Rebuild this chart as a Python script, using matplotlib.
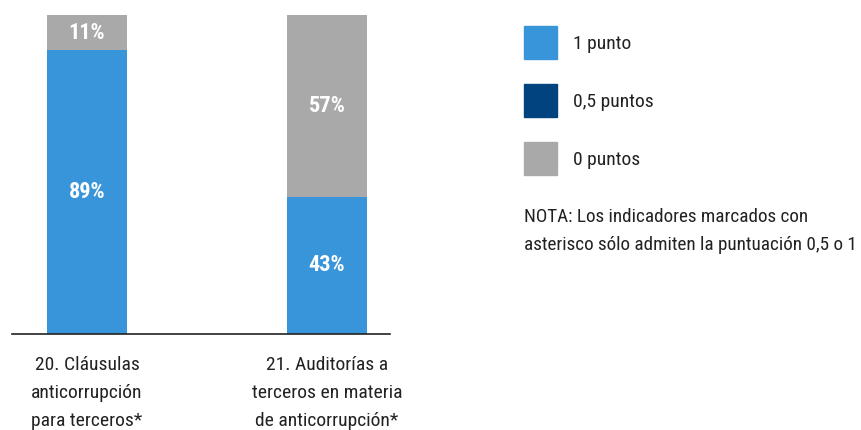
import matplotlib
matplotlib.use("Agg")
import matplotlib.pyplot as plt
from matplotlib.patches import Patch
from matplotlib import font_manager

categories = ["20. Cláusulas\nanticorrupción\npara terceros*",
              "21. Auditorías a\nterceros en materia\nde anticorrupción*"]
uno = [89, 43]
medio = [0, 0]
cero = [11, 57]
legend_labels = ["1 punto", "0,5 puntos", "0 puntos"]
nota = "NOTA: Los indicadores marcados con\nasterisco sólo admiten la puntuación 0,5 o 1"

c_uno = "#3995DA"
c_medio = "#00437F"
c_cero = "#A9A9A9"

names = {f.name for f in font_manager.fontManager.ttflist}
condensed = None
for cand in ["Roboto Condensed", "Liberation Sans Narrow", "Open Sans Condensed", "Noto Sans Condensed"]:
    if cand in names:
        condensed = cand
        break
if condensed:
    plt.rcParams['font.family'] = [condensed, "DejaVu Sans"]
    fs_leg, fs_note, fs_cat, fs_bar = 14, 13.8, 14, 16
else:
    plt.rcParams['font.family'] = ["Roboto", "DejaVu Sans"]
    fs_leg, fs_note, fs_cat, fs_bar = 12.5, 12, 13, 14.5

W, H = 861, 430
fig = plt.figure(figsize=(W/100, H/100), dpi=100)
left, right, top, bottom = 12, 390, 15, 334
ax = fig.add_axes([left/W, 1-bottom/H, (right-left)/W, (bottom-top)/H])

x = [0, 1]
bw = 1/3
ax.bar(x, uno, width=bw, color=c_uno)
ax.bar(x, medio, width=bw, bottom=uno, color=c_medio)
ax.bar(x, cero, width=bw, bottom=[u+m for u, m in zip(uno, medio)], color=c_cero)

for xi, u, m, c in zip(x, uno, medio, cero):
    ax.text(xi, u/2, f"{u}%", ha="center", va="center", color="white", fontsize=fs_bar, fontweight="bold")
    ax.text(xi, u+m+c/2, f"{c}%", ha="center", va="center", color="white", fontsize=fs_bar, fontweight="bold")

ax.set_xlim((left-87)/240, (right-87)/240)
ax.set_ylim(0, 100)
for s in ["top", "right", "left"]:
    ax.spines[s].set_visible(False)
ax.spines["bottom"].set_linewidth(1.2)
ax.spines["bottom"].set_color("#222222")
ax.set_yticks([])
ax.set_xticks(x)
ax.set_xticklabels(categories, fontsize=fs_cat, color="#222222", linespacing=1.69)
ax.tick_params(axis="x", length=0, pad=16)

fs_px = fs_leg * 100 / 72
hh = (33 / fs_px - 0.245) / 0.65
ls = (58 - 33) / fs_px
handles = [Patch(color=c_uno), Patch(color=c_medio), Patch(color=c_cero)]
fig.legend(handles, legend_labels, loc="upper left", bbox_to_anchor=(524/W, 1-26/H),
           frameon=False, fontsize=fs_leg, handlelength=33/fs_px, handleheight=hh,
           labelspacing=ls, handletextpad=16/fs_px, borderpad=0, borderaxespad=0,
           labelcolor="#222222")

fig.text(524/W, 1-231/H, nota, ha="left", va="center", fontsize=fs_note, color="#222222", linespacing=1.72)

fig.savefig("out.png", dpi=100)
